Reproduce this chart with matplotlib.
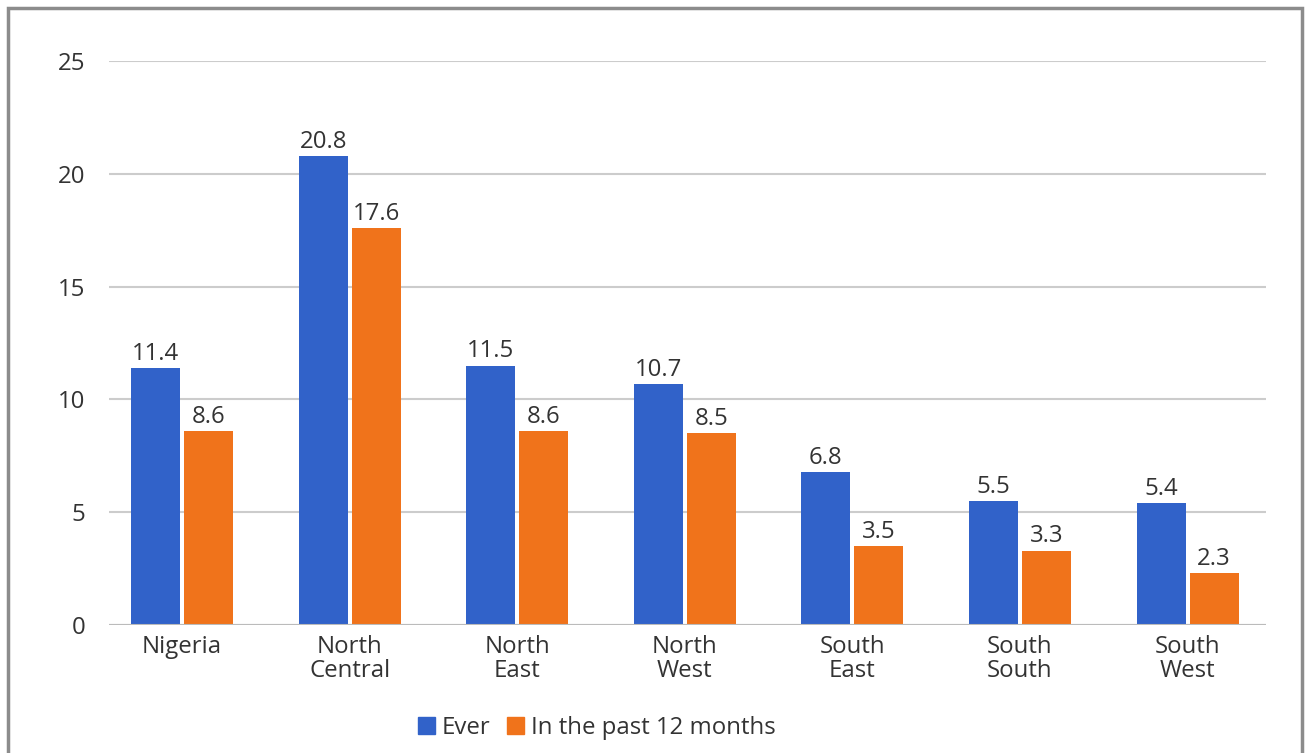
import matplotlib
matplotlib.use("Agg")
import matplotlib.pyplot as plt
from matplotlib.patches import Rectangle, Patch
import numpy as np

plt.rcParams['font.family'] = ['Open Sans', 'DejaVu Sans']

regions = ["Nigeria", "North\nCentral", "North\nEast", "North\nWest",
           "South\nEast", "South\nSouth", "South\nWest"]
ever = [11.4, 20.8, 11.5, 10.7, 6.8, 5.5, 5.4]
past_12 = [8.6, 17.6, 8.6, 8.5, 3.5, 3.3, 2.3]
series_names = ["Ever", "In the past 12 months"]
y_ticks = [0, 5, 10, 15, 20, 25]

blue = "#3162C9"
orange = "#F0731B"
text_col = "#333333"
grid_col = "#CCCCCC"
fs = 17.3

W, H = 1306, 753
fig = plt.figure(figsize=(W / 100, H / 100), dpi=100)
fig.patch.set_facecolor("white")

ax = fig.add_axes([109 / W, 1 - 625 / H, (1266 - 109) / W, (625 - 61) / H])
x = np.arange(len(regions))
bw = 0.292
off = 0.158
b1 = ax.bar(x - off, ever, bw, color=blue, zorder=3)
b2 = ax.bar(x + off, past_12, bw, color=orange, zorder=3)

for bars, vals in ((b1, ever), (b2, past_12)):
    for rect, v in zip(bars, vals):
        ax.annotate(f"{v}", (rect.get_x() + rect.get_width() / 2, v),
                    xytext=(0, 1.5), textcoords="offset points",
                    ha="center", va="bottom", fontsize=fs, color=text_col)

ax.set_xlim(-0.436, 6.468)
ax.set_ylim(0, 25)
ax.set_yticks(y_ticks)
ax.set_yticklabels([str(t) for t in y_ticks])
ax.set_xticks(x)
ax.set_xticklabels(regions, linespacing=1.0)
ax.tick_params(axis="both", length=0, labelsize=fs, colors=text_col)
ax.tick_params(axis="y", pad=17)
ax.tick_params(axis="x", pad=7)
ax.yaxis.grid(True, color=grid_col, linewidth=1.5, zorder=0)
ax.set_axisbelow(True)
for s in ax.spines.values():
    s.set_visible(False)
ax.axhline(0, color="#BBBBBB", linewidth=1.5, zorder=4)
ax.set_facecolor("white")

handles = [Patch(color=blue), Patch(color=orange)]
fig.legend(handles, series_names, loc="center",
           bbox_to_anchor=(597 / W, 1 - 728 / H), ncol=2, frameon=False,
           fontsize=fs, handlelength=0.7, handleheight=0.7,
           handletextpad=0.3, columnspacing=0.7, labelcolor=text_col)

# outer frame
fig.patches.append(Rectangle((8 / W, -0.2), (1302 - 8) / W, 1.2 - 7.5 / H,
                             transform=fig.transFigure, fill=False,
                             edgecolor="#8C8C8C", linewidth=2.5, clip_on=False))

fig.savefig("out.png", dpi=100)
